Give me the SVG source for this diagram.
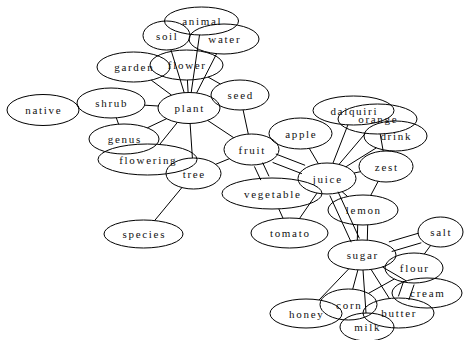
<svg xmlns="http://www.w3.org/2000/svg" width="466" height="340" viewBox="0 0 466 340">
<style>
.n ellipse{fill:none;stroke:#000;stroke-width:1}
.n text{font-family:"Liberation Serif","Times New Roman",serif;font-size:11px;letter-spacing:1.7px;text-anchor:middle;fill:#111}
#edges line{stroke:#000;stroke-width:1}
</style>
<rect width="466" height="340" fill="#fff"/>
<g id="edges">
<line x1="184.2" y1="92.7" x2="170.9" y2="49.7"/>
<line x1="191.2" y1="92.5" x2="199.5" y2="35"/>
<line x1="196.6" y1="93" x2="216.6" y2="53.7"/>
<line x1="188.1" y1="92.5" x2="187.4" y2="80"/>
<line x1="171.6" y1="95.2" x2="151.2" y2="80.1"/>
<line x1="208.1" y1="77.1" x2="220.3" y2="84"/>
<line x1="158.3" y1="106" x2="144.7" y2="105.2"/>
<line x1="77.9" y1="106.4" x2="79" y2="106.3"/>
<line x1="116.3" y1="117.8" x2="118.6" y2="124.2"/>
<line x1="166.6" y1="118.7" x2="147.4" y2="127.8"/>
<line x1="177.4" y1="122.4" x2="159.6" y2="144.5"/>
<line x1="190.1" y1="123.5" x2="192.4" y2="158"/>
<line x1="207.6" y1="120.4" x2="233.7" y2="137.7"/>
<line x1="215.7" y1="164.3" x2="229.3" y2="158.7"/>
<line x1="181.9" y1="187.6" x2="154.6" y2="220.6"/>
<line x1="243.1" y1="109.9" x2="248.3" y2="134.1"/>
<line x1="272.6" y1="162.4" x2="301.9" y2="173.7"/>
<line x1="275.8" y1="154" x2="305.1" y2="165.3"/>
<line x1="254.4" y1="166.4" x2="260.8" y2="180.1"/>
<line x1="262.6" y1="162.6" x2="269" y2="176.3"/>
<line x1="309.3" y1="148.4" x2="318.3" y2="163.7"/>
<line x1="332.9" y1="163.3" x2="347.9" y2="124.9"/>
<line x1="339" y1="164.4" x2="365.4" y2="133.3"/>
<line x1="345.9" y1="166.8" x2="376.3" y2="147.9"/>
<line x1="354.1" y1="173" x2="360.5" y2="171.7"/>
<line x1="380.2" y1="134" x2="383.2" y2="151.1"/>
<line x1="317" y1="193.1" x2="299.5" y2="218.5"/>
<line x1="278.8" y1="208.9" x2="283" y2="218.2"/>
<line x1="378.2" y1="181.3" x2="370.7" y2="195.4"/>
<line x1="342.1" y1="191.7" x2="347.6" y2="196.5"/>
<line x1="329.8" y1="195.5" x2="351.2" y2="242.2"/>
<line x1="338" y1="191.7" x2="359.4" y2="238.4"/>
<line x1="357.7" y1="225" x2="357.3" y2="240"/>
<line x1="367.7" y1="225" x2="367.3" y2="240"/>
<line x1="391.7" y1="251.5" x2="421.3" y2="242.8"/>
<line x1="388.9" y1="241.9" x2="418.5" y2="233.2"/>
<line x1="424.3" y1="254" x2="430.6" y2="245.5"/>
<line x1="348.8" y1="268.8" x2="319" y2="300"/>
<line x1="357.9" y1="269.9" x2="352.7" y2="289.2"/>
<line x1="363" y1="270" x2="366" y2="313"/>
<line x1="371.1" y1="269.5" x2="389.4" y2="298.5"/>
<line x1="382.5" y1="267" x2="406.3" y2="280.9"/>
<line x1="368.4" y1="293.4" x2="394.3" y2="279"/>
<line x1="403.7" y1="281" x2="398.4" y2="296.4"/>
<line x1="414.1" y1="284.6" x2="408.8" y2="300"/>
</g>
<g id="animal" class="n"><ellipse cx="201.5" cy="21" rx="37" ry="14"/><text x="202.3" y="25">animal</text></g>
<g id="soil" class="n"><ellipse cx="166.5" cy="35.5" rx="23.5" ry="14.5"/><text x="167.3" y="39.5">soil</text></g>
<g id="water" class="n"><ellipse cx="224" cy="39" rx="35" ry="15"/><text x="224.8" y="43">water</text></g>
<g id="garden" class="n"><ellipse cx="133.5" cy="67" rx="36.5" ry="15"/><text x="134.3" y="71">garden</text></g>
<g id="flower" class="n"><ellipse cx="186.5" cy="65" rx="36.5" ry="15"/><text x="187.3" y="69">flower</text></g>
<g id="seed" class="n"><ellipse cx="240" cy="95" rx="29" ry="15"/><text x="240.8" y="99">seed</text></g>
<g id="plant" class="n"><ellipse cx="189" cy="108" rx="31" ry="15.5"/><text x="189.8" y="112">plant</text></g>
<g id="shrub" class="n"><ellipse cx="111" cy="103" rx="34" ry="15"/><text x="111.8" y="107">shrub</text></g>
<g id="native" class="n"><ellipse cx="43" cy="110" rx="36" ry="15.5"/><text x="43.8" y="114">native</text></g>
<g id="genus" class="n"><ellipse cx="124" cy="139" rx="35" ry="15"/><text x="124.8" y="143">genus</text></g>
<g id="flowering" class="n"><ellipse cx="147.5" cy="159.5" rx="49.5" ry="15.5"/><text x="148.3" y="163.5">flowering</text></g>
<g id="tree" class="n"><ellipse cx="193.5" cy="173.5" rx="27.5" ry="15.5"/><text x="194.3" y="177.5">tree</text></g>
<g id="species" class="n"><ellipse cx="143.5" cy="234" rx="39.5" ry="14"/><text x="144.3" y="238">species</text></g>
<g id="fruit" class="n"><ellipse cx="251.5" cy="149.5" rx="27.5" ry="15.5"/><text x="252.3" y="153.5">fruit</text></g>
<g id="apple" class="n"><ellipse cx="300.5" cy="133.5" rx="31.5" ry="15.5"/><text x="301.3" y="137.5">apple</text></g>
<g id="daiquiri" class="n"><ellipse cx="353.5" cy="110.5" rx="40.5" ry="14.5"/><text x="354.3" y="114.5">daiquiri</text></g>
<g id="orange" class="n"><ellipse cx="377.5" cy="119" rx="39.5" ry="15"/><text x="378.3" y="123">orange</text></g>
<g id="drink" class="n"><ellipse cx="395.5" cy="136" rx="31.5" ry="15"/><text x="396.3" y="140">drink</text></g>
<g id="zest" class="n"><ellipse cx="386" cy="166.5" rx="27" ry="15.5"/><text x="386.8" y="170.5">zest</text></g>
<g id="juice" class="n"><ellipse cx="327" cy="178.5" rx="29" ry="15.5"/><text x="327.8" y="182.5">juice</text></g>
<g id="vegetable" class="n"><ellipse cx="272" cy="193.5" rx="50" ry="15.5"/><text x="272.8" y="197.5">vegetable</text></g>
<g id="tomato" class="n"><ellipse cx="289.5" cy="233" rx="38.5" ry="15"/><text x="290.3" y="237">tomato</text></g>
<g id="lemon" class="n"><ellipse cx="363" cy="210" rx="35" ry="15"/><text x="363.8" y="214">lemon</text></g>
<g id="sugar" class="n"><ellipse cx="362" cy="255" rx="34" ry="15"/><text x="362.8" y="259">sugar</text></g>
<g id="salt" class="n"><ellipse cx="440.5" cy="232" rx="22.5" ry="15"/><text x="441.3" y="236">salt</text></g>
<g id="flour" class="n"><ellipse cx="414" cy="268" rx="29" ry="15"/><text x="414.8" y="272">flour</text></g>
<g id="cream" class="n"><ellipse cx="427" cy="293" rx="35" ry="15"/><text x="427.8" y="297">cream</text></g>
<g id="corn" class="n"><ellipse cx="348.5" cy="304.5" rx="28.5" ry="15.5"/><text x="349.3" y="308.5">corn</text></g>
<g id="butter" class="n"><ellipse cx="398.5" cy="313" rx="35.5" ry="15"/><text x="399.3" y="317">butter</text></g>
<g id="honey" class="n"><ellipse cx="306" cy="313.5" rx="36" ry="14.5"/><text x="306.8" y="317.5">honey</text></g>
<g id="milk" class="n"><ellipse cx="367" cy="327" rx="27" ry="14"/><text x="367.8" y="331">milk</text></g>
</svg>
